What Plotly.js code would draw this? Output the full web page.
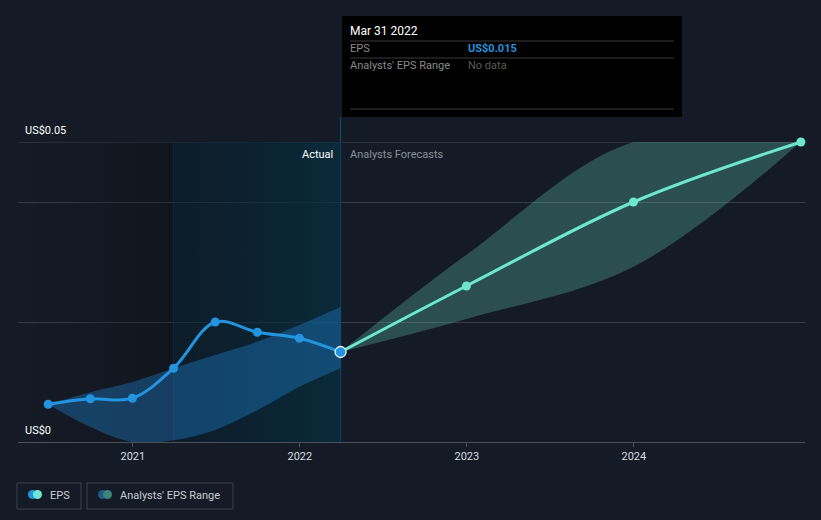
<!DOCTYPE html>
<html>
<head>
<meta charset="utf-8">
<script src="https://cdn.plot.ly/plotly-3.0.1.min.js"></script>
<style>
  html, body { margin: 0; padding: 0; background: #151b26; }
  #chart { width: 821px; height: 520px; }
</style>
</head>
<body>
<div id="chart"></div>
<script>
// actual EPS, quarterly
var epsDates = ['2020-06-30', '2020-09-30', '2020-12-31', '2021-03-31', '2021-06-30', '2021-09-30', '2021-12-31', '2022-03-31'];
var epsValues = [0.0063, 0.0072, 0.0073, 0.0123, 0.0200, 0.0183, 0.0173, 0.0150];
var pastLow = [0.0063, 0.0025, 0.0000, 0.0003, 0.0020, 0.0053, 0.0092, 0.0123];
var pastHigh = [0.0063, 0.0083, 0.0100, 0.0123, 0.0145, 0.0167, 0.0195, 0.0225];

// analysts forecasts
var fcDates = ['2022-03-31', '2022-12-31', '2023-12-31', '2024-12-31'];
var fcValues = [0.0150, 0.0260, 0.0400, 0.0500];
var fcLow = [0.0150, 0.0205, 0.0292, 0.0500];
var fcHigh = [0.0150, 0.0312, 0.0500, 0.0500];

var yTicks = [0, 0.02, 0.04, 0.05];
var yLabels = [['US$0', 0], ['US$0.05', 0.05]];
var xTicks = ['2021-01-01', '2022-01-01', '2023-01-01', '2024-01-01'];
var xTickText = ['2021', '2022', '2023', '2024'];
var xStart = '2020-04-25', xEnd = '2025-01-09';
var yMax = 0.05;

var BG = '#151b26',
	BLUE = '#2394df',
	MINT = '#6ee7d0',
	GRID = '#343a46';

// pixel -> paper helpers (plot area is 18..805 x 142..442)
function px(x) { return (x - 18) / 787; }
function py(y) { return (442 - y) / 300; }

var lastActual = epsDates[epsDates.length - 1],
	actualStart = epsDates[3];

var traces = [
	// darker zone before the highlighted year
	{
		x: [xStart, actualStart, actualStart, xStart],
		y: [0, 0, yMax, yMax],
		fill: 'toself', mode: 'none', hoverinfo: 'skip',
		fillgradient: { type: 'horizontal', colorscale: [[0, 'rgba(0,0,0,0)'], [1, 'rgba(0,0,0,0.22)']] }
	},
	// highlighted actual zone
	{
		x: [actualStart, lastActual, lastActual, actualStart],
		y: [0, 0, yMax, yMax],
		fill: 'toself', mode: 'none', hoverinfo: 'skip',
		fillgradient: { type: 'horizontal', colorscale: [[0, 'rgba(5,30,45,0.5)'], [1, 'rgba(5,48,66,0.72)']] }
	},
	// past analysts range
	{
		x: epsDates, y: pastLow, mode: 'lines', hoverinfo: 'skip',
		line: { width: 0, shape: 'spline', smoothing: 1 }
	},
	{
		x: epsDates, y: pastHigh, mode: 'lines', hoverinfo: 'skip',
		fill: 'tonexty', fillcolor: 'rgba(33,150,243,0.32)',
		line: { width: 0, shape: 'spline', smoothing: 1 }
	},
	// forecast range
	{
		x: fcDates, y: fcLow, mode: 'lines', hoverinfo: 'skip',
		line: { width: 0, shape: 'spline', smoothing: 1 }
	},
	{
		x: fcDates, y: fcHigh, mode: 'lines', hoverinfo: 'skip',
		fill: 'tonexty', fillcolor: 'rgba(110,231,208,0.25)',
		line: { width: 0, shape: 'spline', smoothing: 1 }
	},
	// forecast line
	{
		x: fcDates, y: fcValues, mode: 'lines+markers', hoverinfo: 'skip',
		line: { color: MINT, width: 3, shape: 'spline', smoothing: 1 },
		marker: { color: MINT, size: 9 },
		cliponaxis: false
	},
	// actual EPS line
	{
		x: epsDates, y: epsValues, mode: 'lines+markers', hoverinfo: 'skip',
		line: { color: BLUE, width: 3, shape: 'spline', smoothing: 1 },
		marker: { color: BLUE, size: 9 },
		cliponaxis: false
	},
	// highlighted last actual point
	{
		x: [lastActual], y: [epsValues[epsValues.length - 1]], mode: 'markers', hoverinfo: 'skip',
		marker: { color: BLUE, size: 11, line: { color: '#e8f4ff', width: 1.3 } },
		cliponaxis: false
	}
];

var shapes = [
	// marker line for last actual
	{ type: 'line', layer: 'below', xref: 'x', yref: 'paper', x0: lastActual, x1: lastActual, y0: 0, y1: py(117),
		line: { color: '#0f5168', width: 1 } },
	{ type: 'line', layer: 'below', xref: 'x', yref: 'paper', x0: actualStart, x1: actualStart, y0: 0, y1: 1,
		line: { color: '#133444', width: 1 } },
	// top gridline
	{ type: 'line', layer: 'below', xref: 'paper', yref: 'y', x0: 0, x1: 1, y0: yMax, y1: yMax,
		line: { color: '#3c424e', width: 1 } },
	// tooltip box
	{ type: 'rect', xref: 'paper', yref: 'paper', x0: px(342), x1: px(682), y0: py(117), y1: py(16),
		fillcolor: '#000000', line: { width: 0 } },
	{ type: 'line', xref: 'paper', yref: 'paper', x0: px(350), x1: px(674), y0: py(41), y1: py(41),
		line: { color: '#3a3a3a', width: 1 } },
	{ type: 'line', xref: 'paper', yref: 'paper', x0: px(350), x1: px(674), y0: py(58), y1: py(58),
		line: { color: '#3a3a3a', width: 1 } },
	{ type: 'line', xref: 'paper', yref: 'paper', x0: px(350), x1: px(674), y0: py(109), y1: py(109),
		line: { color: '#3a3a3a', width: 1 } },
	// legend boxes
	{ type: 'rect', xref: 'paper', yref: 'paper', x0: px(17), x1: px(81), y0: py(509), y1: py(483),
		line: { color: '#3b404b', width: 1 } },
	{ type: 'rect', xref: 'paper', yref: 'paper', x0: px(87), x1: px(233), y0: py(509), y1: py(483),
		line: { color: '#3b404b', width: 1 } },
	{ type: 'circle', xref: 'paper', yref: 'paper', x0: px(28), x1: px(37), y0: py(499), y1: py(490),
		fillcolor: BLUE, line: { width: 0 } },
	{ type: 'circle', xref: 'paper', yref: 'paper', x0: px(33), x1: px(42), y0: py(499), y1: py(490),
		fillcolor: MINT, line: { width: 0 } },
	{ type: 'circle', xref: 'paper', yref: 'paper', x0: px(98), x1: px(107), y0: py(499), y1: py(490),
		fillcolor: '#1d5a85', line: { width: 0 } },
	{ type: 'circle', xref: 'paper', yref: 'paper', x0: px(103), x1: px(112), y0: py(499), y1: py(490),
		fillcolor: '#3d8378', line: { width: 0 } }
];

function note(text, x, y, color, size, anchor, weight) {
	return {
		text: text, xref: 'paper', yref: 'paper', x: px(x), y: py(y),
		xanchor: anchor || 'left', yanchor: 'middle', showarrow: false, borderpad: 0,
		font: { color: color, size: size || 11, family: 'Roboto, sans-serif', weight: weight || 400 }
	};
}

var annotations = [
	note('Actual', 334, 154, '#ffffff', 11, 'right'),
	note('Analysts Forecasts', 349, 154, '#8a8f98', 11),
	note('Mar 31 2022', 349, 31, '#ffffff', 12),
	note('EPS', 349, 49, '#8a8a8a', 11),
	note('US$0.015', 467, 49, BLUE, 11, 'left', 700),
	note('Analysts\' EPS Range', 349, 66, '#8a8a8a', 11),
	note('No data', 467, 66, '#5a5a5a', 11),
	note('EPS', 49, 495, '#c8ccd2', 11),
	note('Analysts\' EPS Range', 119, 495, '#c8ccd2', 11)
];

// y labels sit above their gridlines, inside the plot
yLabels.forEach(function (l) {
	annotations.push({
		text: l[0], xref: 'paper', yref: 'y', x: px(24), y: l[1], yshift: 12,
		xanchor: 'left', yanchor: 'middle', showarrow: false, borderpad: 0,
		font: { color: '#ffffff', size: 11, family: 'Roboto, sans-serif' }
	});
});

var layout = {
	width: 821,
	height: 520,
	margin: { l: 18, r: 16, t: 142, b: 78 },
	paper_bgcolor: BG,
	plot_bgcolor: BG,
	showlegend: false,
	hovermode: false,
	font: { family: 'Roboto, sans-serif', color: '#d8dbe0', size: 11 },
	xaxis: {
		type: 'date',
		range: [xStart, xEnd],
		tickvals: xTicks,
		ticktext: xTickText,
		showgrid: false,
		zeroline: false,
		showline: false,
		ticks: 'outside',
		ticklen: 4,
		tickcolor: '#4a4f5a',
		tickfont: { color: '#d8dbe0', size: 11 },
		fixedrange: true
	},
	yaxis: {
		range: [0, yMax],
		tickvals: yTicks,
		showticklabels: false,
		showgrid: true,
		gridcolor: GRID,
		gridwidth: 1,
		zeroline: true,
		zerolinecolor: '#4a4f5a',
		zerolinewidth: 1,
		showline: false,
		fixedrange: true
	},
	shapes: shapes,
	annotations: annotations
};

Plotly.newPlot('chart', traces, layout, { displayModeBar: false, staticPlot: true });
</script>
</body>
</html>
